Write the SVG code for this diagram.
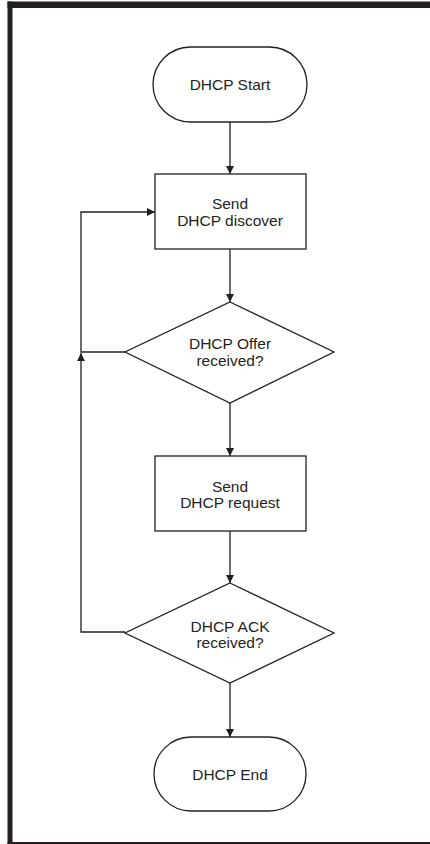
<svg xmlns="http://www.w3.org/2000/svg" width="430" height="844" viewBox="0 0 430 844">
<style>
.shape{fill:#fff;stroke:#231f20;stroke-width:1.3}
.line{fill:none;stroke:#231f20;stroke-width:1.3}
text{font-family:"Liberation Sans",Arial,sans-serif;font-size:15.5px;fill:#231f20;text-anchor:middle;dominant-baseline:central}
</style>
<defs>
<marker id="arr" viewBox="0 0 10 10" refX="10" refY="5" markerWidth="9" markerHeight="8" markerUnits="userSpaceOnUse" orient="auto">
<path d="M0,0 L10,5 L0,10 z" fill="#231f20"/>
</marker>
</defs>
<rect width="430" height="844" fill="#fff"/>
<g id="frame" fill="#231f20">
<rect x="7.5" y="1.5" width="422.5" height="6.5"/>
<rect x="7.5" y="1.5" width="5" height="842.5"/>
<rect x="7.5" y="842" width="422.5" height="2"/>
</g>
<g id="connectors">
<line class="line" x1="230" y1="122" x2="230" y2="174" marker-end="url(#arr)"/>
<line class="line" x1="230" y1="249" x2="230" y2="302" marker-end="url(#arr)"/>
<line class="line" x1="230" y1="403" x2="230" y2="456" marker-end="url(#arr)"/>
<line class="line" x1="230" y1="531" x2="230" y2="583" marker-end="url(#arr)"/>
<line class="line" x1="230" y1="683" x2="230" y2="737" marker-end="url(#arr)"/>
<polyline class="line" points="125,352 81,352 81,212 155,212" marker-end="url(#arr)"/>
<polyline class="line" points="125,632 81,632 81,353" marker-end="url(#arr)"/>
</g>
<g id="start">
<rect class="shape" x="153" y="47" width="154" height="75" rx="37.5" ry="37.5"/>
<text x="230" y="84.5">DHCP Start</text>
</g>
<g id="discover">
<rect class="shape" x="155" y="174" width="151" height="75"/>
<text x="230" y="203.5">Send</text>
<text x="230" y="220">DHCP discover</text>
</g>
<g id="offer">
<polygon class="shape" points="230,302 334,352 230,403 125,352"/>
<text x="230" y="343.5">DHCP Offer</text>
<text x="230" y="360">received?</text>
</g>
<g id="request">
<rect class="shape" x="155" y="456" width="151" height="75"/>
<text x="230" y="486">Send</text>
<text x="230" y="502">DHCP request</text>
</g>
<g id="ack">
<polygon class="shape" points="230,583 334,633 230,683 125,633"/>
<text x="230" y="626">DHCP ACK</text>
<text x="230" y="642">received?</text>
</g>
<g id="end">
<rect class="shape" x="154" y="737" width="152" height="74" rx="37" ry="37"/>
<text x="230" y="774">DHCP End</text>
</g>
</svg>
